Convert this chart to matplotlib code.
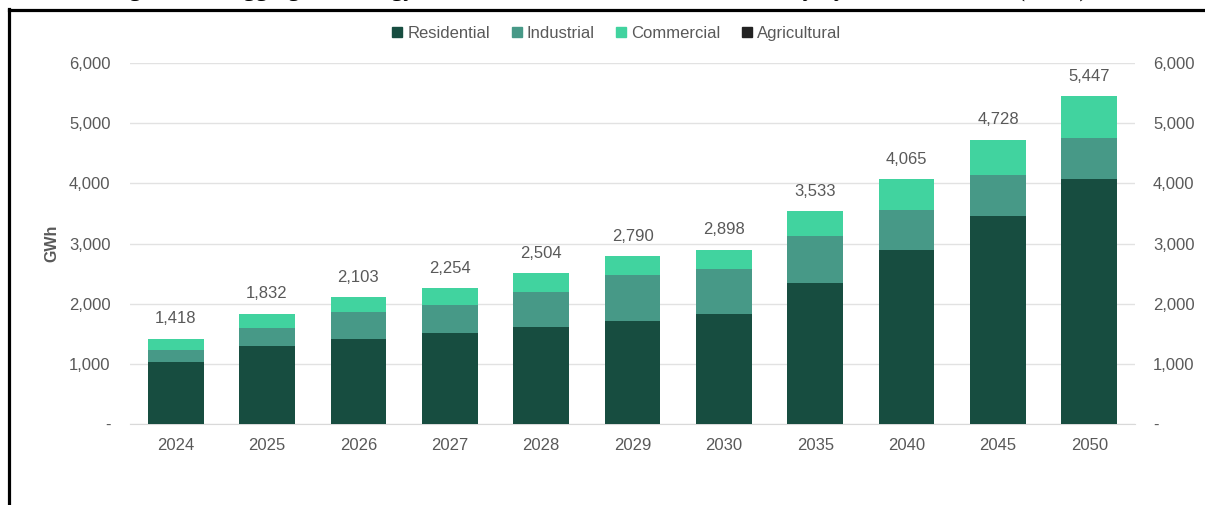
import numpy as np
import matplotlib
matplotlib.use("Agg")
import matplotlib.pyplot as plt
from matplotlib.patches import Patch
from matplotlib.lines import Line2D
from matplotlib.ticker import FuncFormatter

# Electricity demand forecast by customer sector (GWh)
years = ["2024", "2025", "2026", "2027", "2028", "2029", "2030",
         "2035", "2040", "2045", "2050"]
agricultural = [5, 5, 5, 5, 5, 5, 5, 5, 5, 5, 5]
residential = [1025, 1290, 1414, 1514, 1610, 1708, 1820, 2340, 2890, 3460, 4070]
industrial = [200, 300, 438, 466, 580, 760, 754, 777, 665, 672, 672]
commercial = [188, 237, 246, 269, 309, 317, 319, 411, 505, 591, 700]

colors = {
    "Residential": "#174D40",
    "Industrial": "#479987",
    "Commercial": "#41D39F",
    "Agricultural": "#222222",
}
grey = "#595959"

plt.rcParams["font.family"] = ["Liberation Sans", "DejaVu Sans"]

fig = plt.figure(figsize=(12.05, 5.05), dpi=100)
ax = fig.add_axes([0.1079, 0.1604, 0.8340, 0.7148])

x = np.arange(len(years))
w = 0.61
ag = np.array(agricultural)
res = np.array(residential)
ind = np.array(industrial)
com = np.array(commercial)

ax.bar(x, ag, w, color=colors["Agricultural"], zorder=3)
ax.bar(x, res, w, bottom=ag, color=colors["Residential"], zorder=3)
ax.bar(x, ind, w, bottom=ag + res, color=colors["Industrial"], zorder=3)
ax.bar(x, com, w, bottom=ag + res + ind, color=colors["Commercial"], zorder=3)

totals = ag + res + ind + com
for xi, t in zip(x, totals):
    ax.annotate(f"{t:,}", (xi, t), xytext=(0, 9), textcoords="offset points",
                ha="center", va="bottom", fontsize=12, color=grey)

ax.set_xlim(-0.5, len(years) - 0.5)
ax.set_ylim(0, 6000)
ax.set_yticks(range(0, 6001, 1000))
fmt = FuncFormatter(lambda v, p: "-" if v == 0 else f"{int(v):,}")
ax.yaxis.set_major_formatter(fmt)
ax.set_xticks(x)
ax.set_xticklabels(years)
ax.grid(axis="y", color="#E2E2E2", linewidth=1, zorder=0)
for s in ["top", "right", "left"]:
    ax.spines[s].set_visible(False)
ax.spines["bottom"].set_color("#D9D9D9")
ax.tick_params(axis="both", length=0, labelsize=12, labelcolor=grey)
ax.tick_params(axis="y", pad=14)
ax.tick_params(axis="x", pad=10)
ax.set_ylabel("GWh", fontsize=11.5, fontweight="bold", color=grey, labelpad=7)

ax2 = ax.twinx()
ax2.set_ylim(ax.get_ylim())
ax2.set_yticks(range(0, 6001, 1000))
ax2.yaxis.set_major_formatter(fmt)
ax2.tick_params(axis="y", length=0, labelsize=12, labelcolor=grey, pad=13)
for s in ax2.spines.values():
    s.set_visible(False)

handles = [Patch(color=colors[k], label=k) for k in colors]
fig.legend(handles=handles, loc="center", bbox_to_anchor=(0.512, 0.934), ncol=4,
           frameon=False, fontsize=12, handlelength=0.6, handleheight=0.6,
           handletextpad=0.3, columnspacing=1.3, labelcolor=grey)

# caption of the figure, sitting above the frame
fig.text(0.09, 1.0 + 3.7 / 505,
         "Figure 3-2: Aggregated energy demand forecast in the service territory by customer sector (GWh)",
         family=["Liberation Serif", "DejaVu Serif"], fontsize=18, color="black",
         va="baseline", ha="left")

# frame around the chart
fig.add_artist(Line2D([9 / 1205, 9 / 1205], [0, 1 - 9 / 505], color="black",
                      linewidth=2.3, transform=fig.transFigure, solid_capstyle="projecting"))
fig.add_artist(Line2D([9 / 1205, 1], [1 - 10 / 505, 1 - 10 / 505], color="black",
                      linewidth=2.3, transform=fig.transFigure, solid_capstyle="projecting"))

fig.savefig("out.png", dpi=100)
